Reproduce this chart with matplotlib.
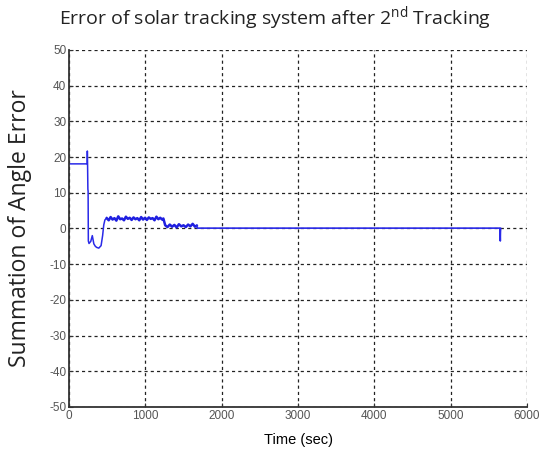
import matplotlib.pyplot as plt

# time (sec) and summed angle error
t_start = [0, 238, 240, 243, 247, 250, 253, 262, 285, 305, 325, 345, 363, 390, 420, 440, 455, 470, 494]
e_start = [18.1, 18.1, 21.7, 17.9, 11.0, 10.5, -3.5, -4.2, -3.6, -2.0, -4.3, -5.0, -5.3, -5.5, -4.8, -2.0, 1.0, 2.4, 2.9]

t_high = [494, 520, 545, 570, 595, 620, 645, 670, 695, 720, 745, 770, 795, 820, 845, 870, 895,
          920, 945, 970, 995, 1020, 1045, 1070, 1095, 1120, 1145, 1170, 1195, 1220, 1236]
e_high = [2.9, 2.3, 3.2, 2.5, 2.9, 2.2, 3.4, 2.6, 2.8, 2.3, 3.3, 2.7, 3.0, 2.4, 3.1, 2.6, 2.9,
          2.3, 3.2, 2.5, 3.0, 2.4, 3.1, 2.7, 2.9, 2.3, 3.3, 2.6, 3.0, 2.5, 2.8]

t_mid = [1236, 1260, 1290, 1320, 1350, 1380, 1410, 1440, 1470, 1500, 1530, 1560, 1590, 1620, 1650, 1673]
e_mid = [2.8, 0.9, 0.4, 1.1, 0.5, 1.0, 0.3, 1.2, 0.6, 0.9, 0.4, 1.1, 0.6, 1.3, 0.5, 0.8]

t_end = [1673, 1680, 3000, 4500, 5645, 5650, 5652, 5655]
e_end = [0.8, 0.1, 0.1, 0.1, 0.1, -3.5, -1.0, 0.0]

x_ticks = [0, 1000, 2000, 3000, 4000, 5000, 6000]
y_ticks = [-50, -40, -30, -20, -10, 0, 10, 20, 30, 40, 50]

fig = plt.figure(figsize=(5.5, 4.59), dpi=100)
ax = fig.add_axes([0.1255, 0.1133, 0.8327, 0.7778])

ax.plot(t_start, e_start, color='#2a2ae8', lw=1.1)
ax.plot(t_high + t_mid[1:], e_high + e_mid[1:], color='#1f1fe0', lw=1.8)
ax.plot(t_end, e_end, color='#2a2ae8', lw=1.2)

ax.set_xlim(0, 6000)
ax.set_ylim(-50, 50)
ax.set_xticks(x_ticks)
ax.set_yticks(y_ticks)
ax.set_xticklabels([str(v) for v in x_ticks], fontsize=8.5, color='#555555', family='Liberation Sans')
ax.set_yticklabels([str(v) for v in y_ticks], fontsize=8.5, color='#555555', family='Liberation Sans')
ax.tick_params(direction='in', length=3, color='#333333', pad=2)

ax.grid(True, color='#222222', linestyle=(0, (2.5, 2.5)), linewidth=0.9)
for side in ['top', 'right']:
    ax.spines[side].set_visible(False)
for side in ['left', 'bottom']:
    ax.spines[side].set_color('#333333')
    ax.spines[side].set_linewidth(1.3)

ax.set_ylabel('Summation of Angle Error', fontsize=16.5, family='Open Sans', labelpad=12, color='#222222')
ax.set_xlabel('Time (sec)', fontsize=10.5, family='Liberation Sans', labelpad=8)
fig.text(0.5, 0.96, r'Error of solar tracking system after 2$^{\mathregular{nd}}$ Tracking',
         ha='center', va='center', fontsize=14, family='Open Sans', color='#222222')

plt.savefig('out.png', dpi=100)
